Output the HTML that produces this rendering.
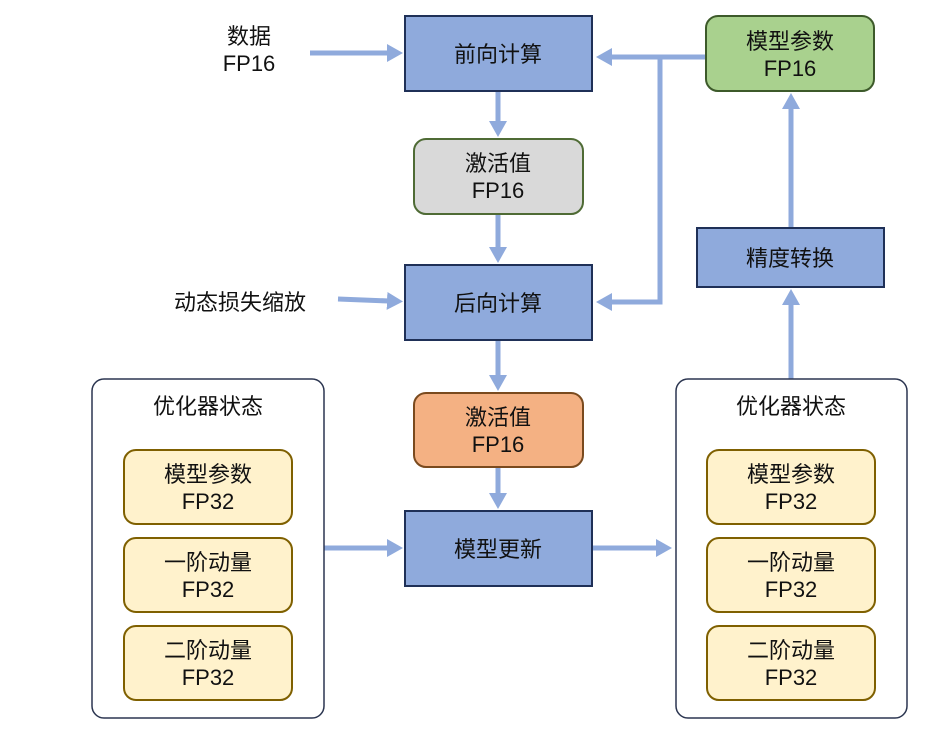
<!DOCTYPE html>
<html><head><meta charset="utf-8"><style>
body{margin:0;background:#fff;}
svg text{font-family:"Liberation Sans","Noto Sans CJK SC",sans-serif;font-size:22px;fill:#111;text-anchor:middle;}
</style></head><body>
<svg width="951" height="742" viewBox="0 0 951 742" xmlns="http://www.w3.org/2000/svg">
<defs>
<marker id="a" markerWidth="16" markerHeight="18" refX="2" refY="9" orient="auto" markerUnits="userSpaceOnUse">
<path d="M0,0 L16,9 L0,18 z" fill="#8faadc"/></marker>
</defs>
<g stroke="#8faadc" stroke-width="5" fill="none">
<line x1="310" y1="53" x2="389" y2="53" marker-end="url(#a)"/>
<line x1="338" y1="299" x2="389" y2="301" marker-end="url(#a)"/>
<line x1="706" y1="57" x2="610" y2="57" marker-end="url(#a)"/>
<polyline points="660,57 660,302 610,302" marker-end="url(#a)"/>
<line x1="498" y1="91" x2="498" y2="123" marker-end="url(#a)"/>
<line x1="498" y1="214" x2="498" y2="249" marker-end="url(#a)"/>
<line x1="498" y1="340" x2="498" y2="377" marker-end="url(#a)"/>
<line x1="498" y1="467" x2="498" y2="495" marker-end="url(#a)"/>
<line x1="324" y1="548" x2="389" y2="548" marker-end="url(#a)"/>
<line x1="592" y1="548" x2="658" y2="548" marker-end="url(#a)"/>
<line x1="791" y1="379" x2="791" y2="303" marker-end="url(#a)"/>
<line x1="791" y1="228" x2="791" y2="107" marker-end="url(#a)"/>
</g>
<g stroke="#1f3057" stroke-width="2">
<rect x="405" y="16" width="187" height="75" fill="#8faadc"/>
<rect x="405" y="265" width="187" height="75" fill="#8faadc"/>
<rect x="405" y="511" width="187" height="75" fill="#8faadc"/>
<rect x="697" y="228" width="187" height="59" fill="#8faadc"/>
</g>
<rect x="414" y="139" width="169" height="75" rx="12" fill="#d9d9d9" stroke="#4f6b35" stroke-width="2"/>
<rect x="414" y="393" width="169" height="74" rx="12" fill="#f4b183" stroke="#7a4a1e" stroke-width="2"/>
<rect x="706" y="16" width="168" height="75" rx="12" fill="#a9d18e" stroke="#3d5a2a" stroke-width="2"/>
<rect x="92" y="379" width="232" height="339" rx="12" fill="#fff" stroke="#2b3550" stroke-width="1.5"/>
<rect x="676" y="379" width="231" height="339" rx="12" fill="#fff" stroke="#2b3550" stroke-width="1.5"/>
<g fill="#fff2cc" stroke="#7f6000" stroke-width="2">
<rect x="124" y="450" width="168" height="74" rx="12"/>
<rect x="124" y="538" width="168" height="74" rx="12"/>
<rect x="124" y="626" width="168" height="74" rx="12"/>
<rect x="707" y="450" width="168" height="74" rx="12"/>
<rect x="707" y="538" width="168" height="74" rx="12"/>
<rect x="707" y="626" width="168" height="74" rx="12"/>
</g>
<text x="249" y="44">数据</text><text x="249" y="71">FP16</text>
<text x="240" y="310">动态损失缩放</text>
<text x="498" y="62">前向计算</text>
<text x="498" y="171">激活值</text><text x="498" y="198">FP16</text>
<text x="498" y="311">后向计算</text>
<text x="498" y="425">激活值</text><text x="498" y="452">FP16</text>
<text x="498" y="557">模型更新</text>
<text x="790" y="49">模型参数</text><text x="790" y="76">FP16</text>
<text x="790" y="266">精度转换</text>
<text x="208" y="414">优化器状态</text>
<text x="791" y="414">优化器状态</text>
<text x="208" y="482">模型参数</text><text x="208" y="509">FP32</text>
<text x="208" y="570">一阶动量</text><text x="208" y="597">FP32</text>
<text x="208" y="658">二阶动量</text><text x="208" y="685">FP32</text>
<text x="791" y="482">模型参数</text><text x="791" y="509">FP32</text>
<text x="791" y="570">一阶动量</text><text x="791" y="597">FP32</text>
<text x="791" y="658">二阶动量</text><text x="791" y="685">FP32</text>
</svg>
</body></html>
